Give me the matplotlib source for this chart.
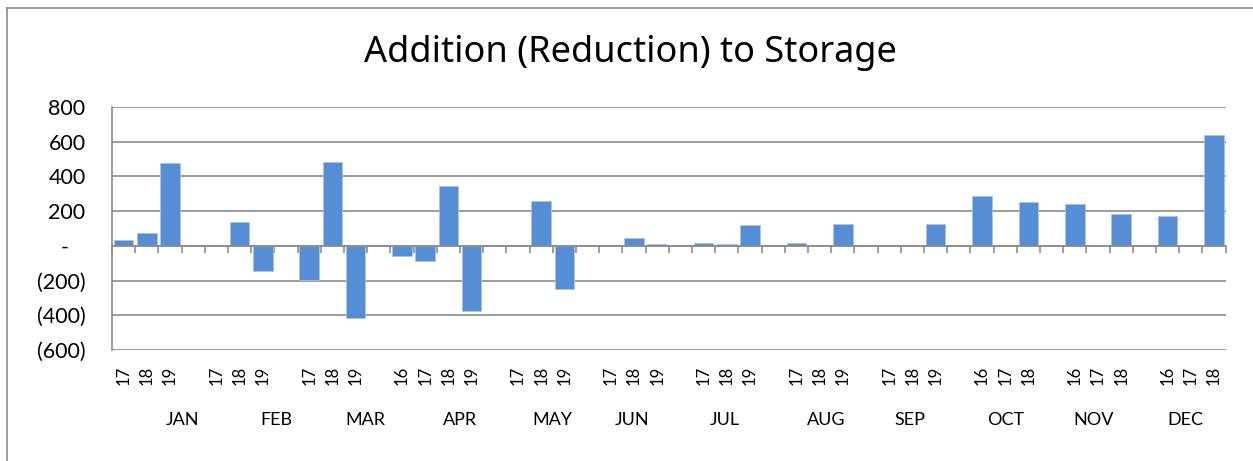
import matplotlib
matplotlib.use("Agg")
import matplotlib.pyplot as plt
import matplotlib.transforms as mtransforms
from matplotlib.lines import Line2D
import numpy as np


months = ["JAN", "FEB", "MAR", "APR", "MAY", "JUN",
          "JUL", "AUG", "SEP", "OCT", "NOV", "DEC"]
year_labels = [
    ["17", "18", "19"],
    ["17", "18", "19"],
    ["17", "18", "19"],
    ["16", "17", "18", "19"],
    ["17", "18", "19"],
    ["17", "18", "19"],
    ["17", "18", "19"],
    ["17", "18", "19"],
    ["17", "18", "19"],
    ["16", "17", "18"],
    ["16", "17", "18"],
    ["16", "17", "18"],
]
storage_change = [
    [33, 73, 476],
    [-3, 139, -145],
    [-197, 486, -418],
    [-60, -89, 345, -374],
    [0, 260, -251],
    [0, 46, 10],
    [15, 12, 119],
    [17, 0, 125],
    [0, 0, 125],
    [287, 0, 253],
    [243, 5, 183],
    [172, 0, 636],
]
y_ticks = [-600, -400, -200, 0, 200, 400, 600, 800]
y_tick_labels = ["(600)", "(400)", "(200)", "-   ", "200", "400", "600", "800"]

# month captions sit a little off the group centre in the original
month_shift = [1.56, 1.57, 1.4, 1.0, 0.5, -0.1, -0.1, 0.3, -0.1, 0.0, -0.2, -0.25]

BAR = "#558ED5"
GRID = "#8c8c8c"
FONT = "Lato"

# one slot per year, one empty slot between months
xs, vals, labels, month_x = [], [], [], []
pos = 0
for i, (yrs, v) in enumerate(zip(year_labels, storage_change)):
    grp = list(range(pos, pos + len(yrs)))
    xs += grp
    vals += v
    labels += yrs
    month_x.append(np.mean(grp) + month_shift[i])
    pos += len(yrs) + 1
n_slots = pos - 1

W, H = 1253, 461
fig = plt.figure(figsize=(W / 100, H / 100), dpi=100)
ax = fig.add_axes([112 / W, 1 - 350 / H, (1225.6 - 112) / W, 243 / H])

ax.bar(xs, vals, width=0.85, color=BAR, edgecolor="#a8c3ea", linewidth=0.6, zorder=3)

ax.set_xlim(-0.5, n_slots - 0.5)
ax.set_ylim(-600, 800)
ax.set_yticks(y_ticks)
ax.set_yticklabels(y_tick_labels, fontsize=15.5, family=FONT)
ax.tick_params(axis="y", length=0, pad=19)
ax.yaxis.grid(True, color=GRID, lw=1.2, zorder=0)

# category axis line at zero with boundary ticks
ax.spines["bottom"].set_position(("data", 0))
ax.spines["bottom"].set_color(GRID)
ax.spines["bottom"].set_linewidth(1.2)
ax.spines["bottom"].set_zorder(4)
ax.set_xticks(np.arange(-0.5, n_slots, 1.0))
ax.set_xticklabels([])
ax.tick_params(axis="x", direction="out", length=5, width=1.2, color=GRID)
ax.spines["left"].set_color(GRID)
ax.spines["left"].set_linewidth(1.2)
ax.spines["top"].set_visible(False)
ax.spines["right"].set_visible(False)

sec = ax.secondary_xaxis("bottom")
sec.set_xticks(xs)
sec.set_xticklabels(labels, rotation=90, fontsize=12, family=FONT)
sec.tick_params(length=0, pad=11)
sec.spines["bottom"].set_visible(False)

trans = mtransforms.blended_transform_factory(ax.transData, fig.transFigure)
for m, mx in zip(months, month_x):
    ax.text(mx, 1 - 420 / H, m, transform=trans, ha="center", va="center",
            fontsize=13, family=FONT)

fig.text(630 / W, 1 - 62 / H, "Addition (Reduction) to Storage", ha="center",
         va="baseline", fontsize=26, family="Noto Sans")

# chart frame (only left and top edges fall inside the picture)
fig.add_artist(Line2D([7 / W, 7 / W], [0, 1 - 8 / H], transform=fig.transFigure,
                      color=GRID, lw=1.2))
fig.add_artist(Line2D([7 / W, 1], [1 - 8 / H, 1 - 8 / H], transform=fig.transFigure,
                      color=GRID, lw=1.2))

fig.savefig("out.png", dpi=100)
